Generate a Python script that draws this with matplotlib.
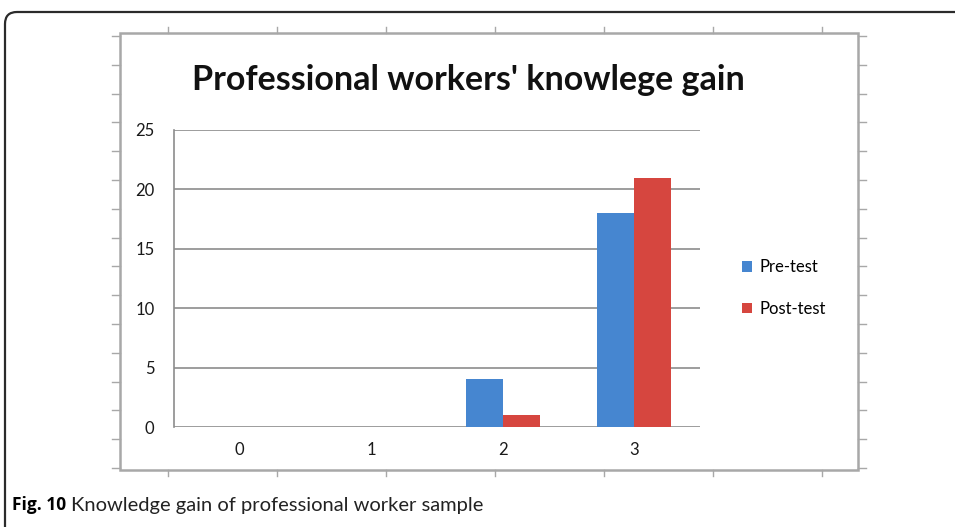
import numpy as np
import matplotlib
import matplotlib.pyplot as plt
from matplotlib.patches import FancyBboxPatch, Rectangle
from matplotlib.lines import Line2D
from matplotlib.transforms import IdentityTransform

matplotlib.use('agg')

categories = ['0', '1', '2', '3']
pre_test = [0, 0, 4, 18]
post_test = [0, 0, 1, 21]
series_names = ['Pre-test', 'Post-test']
y_ticks = [0, 5, 10, 15, 20, 25]
title = "Professional workers' knowlege gain"

W, H = 955, 527
fig = plt.figure(figsize=(W / 100, H / 100), dpi=100)


def fx(px):
    return px / W


def fy(py):
    return 1 - py / H


# outer rounded frame of the figure panel (only left and top are visible), in pixels
frame = FancyBboxPatch((5, -200), 1400, H - 12 + 200,
                       boxstyle="round,pad=0,rounding_size=12",
                       transform=IdentityTransform(), fill=False,
                       edgecolor='#2b2b2b', lw=1.6, clip_on=False)
fig.patches.append(frame)

# excel chart frame with its ruler-like tick marks
grey = '#a8a8a8'
fig.patches.append(Rectangle((fx(120), fy(470)), fx(858) - fx(120), fy(33) - fy(470),
                             transform=fig.transFigure, fill=False,
                             edgecolor=grey, lw=1.8))
for x in np.arange(168, 830, 109):
    fig.lines.append(Line2D([fx(x), fx(x)], [fy(27), fy(33)], color=grey, lw=1,
                            transform=fig.transFigure))
    fig.lines.append(Line2D([fx(x), fx(x)], [fy(470), fy(476)], color=grey, lw=1,
                            transform=fig.transFigure))
for y in np.arange(36, 471, 28.8):
    fig.lines.append(Line2D([fx(112), fx(120)], [fy(y), fy(y)], color=grey, lw=1,
                            transform=fig.transFigure))
    fig.lines.append(Line2D([fx(858), fx(866)], [fy(y), fy(y)], color=grey, lw=1,
                            transform=fig.transFigure))

ax = fig.add_axes([fx(174), fy(427), fx(700) - fx(174), fy(130) - fy(427)])
x = np.arange(len(categories))
bw = 0.28
b1 = ax.bar(x - bw / 2, pre_test, bw, color='#4686d0', label=series_names[0], zorder=3)
b2 = ax.bar(x + bw / 2, post_test, bw, color='#d6463f', label=series_names[1], zorder=3)

ax.set_xlim(-0.5, len(categories) - 0.5)
ax.set_ylim(0, 25)
ax.set_yticks(y_ticks)
ax.set_xticks(x)
ax.set_xticklabels(categories)
ax.yaxis.grid(True, color='#8c8c8c', lw=1.2, zorder=0)
for s in ['top', 'right', 'bottom']:
    ax.spines[s].set_visible(False)
ax.spines['left'].set_color('#8c8c8c')
ax.spines['left'].set_linewidth(1.2)
ax.tick_params(length=0, labelsize=12, colors='#1a1a1a')
ax.tick_params(axis='y', pad=14)
ax.tick_params(axis='x', pad=11)
for lab in ax.get_xticklabels() + ax.get_yticklabels():
    lab.set_family(['Lato', 'DejaVu Sans'])

fig.text(fx(468), fy(80), title, ha='center', va='center', fontsize=24.5,
         fontweight='bold', family=['Lato', 'DejaVu Sans'], color='#111111')

leg = ax.legend(handles=[b1, b2], loc='center left',
                bbox_to_anchor=(fx(727), fy(288)), bbox_transform=fig.transFigure,
                frameon=False, handlelength=0.6, handleheight=0.6,
                handletextpad=0.45, labelspacing=1.55,
                prop={'family': ['Lato', 'DejaVu Sans'], 'size': 12})

cap1 = fig.text(fx(12), fy(505), 'Fig. 10', ha='left', va='center', fontsize=12.5,
                fontweight='bold', family=['Open Sans', 'DejaVu Sans'])
fig.canvas.draw()
bb = cap1.get_window_extent()
fig.text(bb.x1 / W + fx(5), fy(505), 'Knowledge gain of professional worker sample',
         ha='left', va='center', fontsize=14.5, family=['Lato', 'DejaVu Sans'],
         color='#222222')

fig.savefig('out.png', dpi=100)
